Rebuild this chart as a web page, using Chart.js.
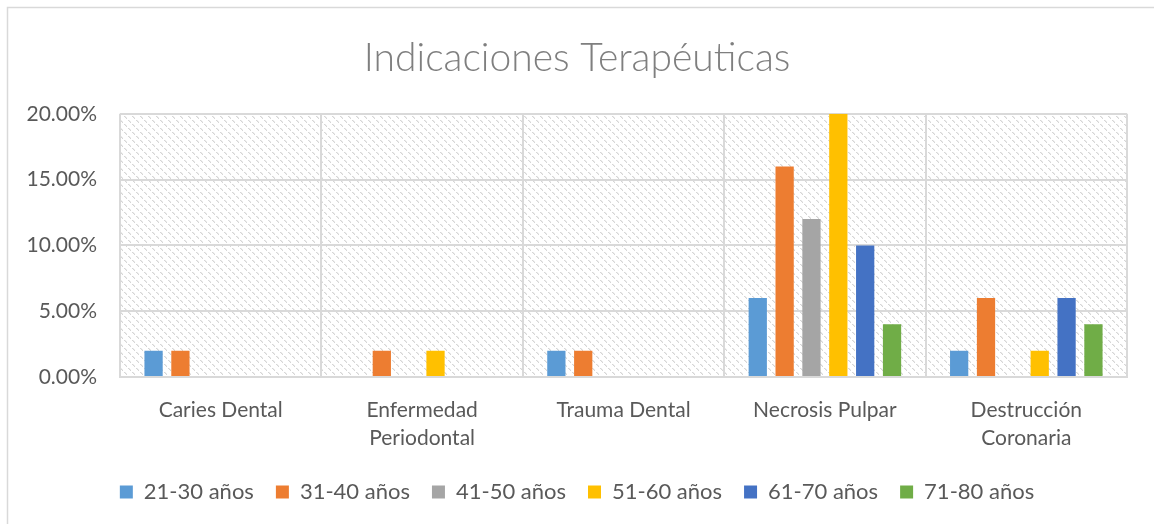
<!DOCTYPE html>
<html>
<head>
<meta charset="utf-8">
<script src="https://cdn.jsdelivr.net/npm/chart.js@4.4.1/dist/chart.umd.min.js"></script>
<style>
  html, body { margin: 0; padding: 0; background: #fff; }
  #wrap { position: relative; width: 1154px; height: 524px; }
</style>
</head>
<body>
<div id="wrap"><canvas id="chart"></canvas></div>
<script>
// Chart data
const categories = ['Caries Dental', ['Enfermedad', 'Periodontal'], 'Trauma Dental', 'Necrosis Pulpar', ['Destrucción', 'Coronaria']];
const seriesNames = ['21-30 años', '31-40 años', '41-50 años', '51-60 años', '61-70 años', '71-80 años'];
const seriesColors = ['#5B9BD5', '#ED7D31', '#A5A5A5', '#FFC000', '#4472C4', '#70AD47'];
const age21_30 = [2, 0, 2, 6, 2];
const age31_40 = [2, 2, 2, 16, 6];
const age41_50 = [0, 0, 0, 12, 0];
const age51_60 = [0, 2, 0, 20, 2];
const age61_70 = [0, 0, 0, 10, 6];
const age71_80 = [0, 0, 0, 4, 4];
const seriesValues = [age21_30, age31_40, age41_50, age51_60, age61_70, age71_80];
const yTicks = [0, 5, 10, 15, 20];

const FONT = 'Lato, "Noto Sans", sans-serif';
const TEXT = '#595959';
const GRID = '#d9d9d9';

// light dotted diagonal hatch used by the plot area
function makeHatch() {
    const c = document.createElement('canvas');
    c.width = 8; c.height = 8;
    const g = c.getContext('2d');
    g.fillStyle = '#ffffff';
    g.fillRect(0, 0, 8, 8);
    g.fillStyle = 'rgba(0,0,0,0.16)';
    [0, 1, 2, 4, 5, 6].forEach(i => g.fillRect(i, i, 1, 1));
    g.fillStyle = 'rgba(0,0,0,0.08)';
    [0, 1, 4, 5].forEach(i => g.fillRect(i + 1, i, 1, 1));
    return c;
}

const backdrop = {
    id: 'backdrop',
    beforeDraw(chart) {
        const { ctx, chartArea } = chart;
        ctx.save();
        ctx.fillStyle = '#ffffff';
        ctx.fillRect(0, 0, chart.width, chart.height);
        ctx.strokeStyle = GRID;
        ctx.lineWidth = 1.5;
        ctx.strokeRect(7.5, 7.5, chart.width + 20, chart.height + 20);
        ctx.fillStyle = ctx.createPattern(makeHatch(), 'repeat');
        ctx.fillRect(chartArea.left, chartArea.top, chartArea.right - chartArea.left, chartArea.bottom - chartArea.top);
        ctx.restore();
    }
};

const ctx = document.getElementById('chart').getContext('2d');
new Chart(ctx, {
    type: 'bar',
    data: {
        labels: categories,
        datasets: seriesNames.map((name, i) => ({
            label: name,
            data: seriesValues[i],
            backgroundColor: seriesColors[i],
            borderWidth: 0,
            categoryPercentage: 0.8,
            barPercentage: 0.68
        }))
    },
    options: {
        responsive: true,
        maintainAspectRatio: false,
        animation: false,
        layout: { padding: { left: 27, right: 27, top: 0, bottom: 11 } },
        plugins: {
            title: {
                display: true,
                text: 'Indicaciones Terapéuticas',
                color: '#7f7f7f',
                font: { family: FONT, size: 39, weight: '300', lineHeight: 1.2 },
                padding: { top: 35, bottom: 32 }
            },
            legend: {
                position: 'bottom',
                labels: {
                    color: TEXT,
                    font: { family: FONT, size: 22 },
                    boxWidth: 13,
                    boxHeight: 13,
                    padding: 22
                }
            },
            tooltip: { enabled: false }
        },
        scales: {
            x: {
                grid: { color: GRID, lineWidth: 2, drawTicks: false },
                border: { color: GRID, width: 2 },
                ticks: {
                    color: TEXT,
                    font: { family: FONT, size: 21, lineHeight: 1.3 },
                    padding: 20,
                    maxRotation: 0
                },
                afterFit(scale) { scale.height = 82; }
            },
            y: {
                min: 0,
                max: 20,
                afterBuildTicks(scale) { scale.ticks = yTicks.map(v => ({ value: v })); },
                grid: { color: GRID, lineWidth: 2, drawTicks: false },
                border: { display: false },
                ticks: {
                    color: TEXT,
                    font: { family: FONT, size: 21 },
                    padding: 23,
                    callback: v => v.toFixed(2) + '%'
                },
                afterFit(scale) { scale.width = 93; }
            }
        }
    },
    plugins: [backdrop]
});
</script>
</body>
</html>
